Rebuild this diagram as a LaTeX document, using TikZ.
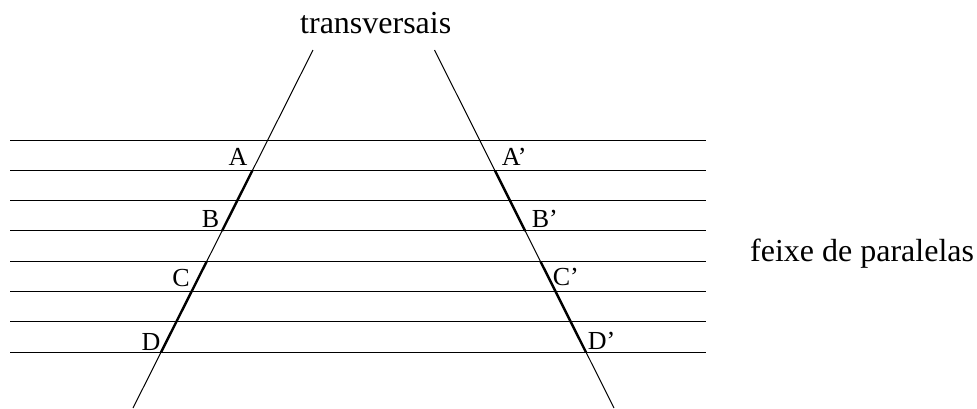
\documentclass[tikz,border=0pt]{standalone}
\usepackage{fontspec}
\setmainfont{Liberation Serif}
\begin{document}
\begin{tikzpicture}[x=1pt,y=-1pt,
  thinline/.style={line width=1pt,black},
  thickline/.style={line width=2.4pt,black},
  bigtext/.style={inner sep=0pt,font=\fontsize{32}{38}\selectfont},
  ptlabel/.style={inner sep=0pt,font=\fontsize{26}{31}\selectfont}]
\useasboundingbox (0,0) rectangle (977,408);
% parallel lines
\foreach \i in {0,...,7}{
  \coordinate (h\i w) at (10,{140+30.33*\i});
  \coordinate (h\i e) at (706,{140+30.33*\i});
  \draw[thinline] (h\i w) -- (h\i e);
}
% transversals
\coordinate (lt) at (313,50);
\coordinate (lb) at (133,408);
\coordinate (rt) at (434.5,50);
\coordinate (rb) at (614,408);
\draw[thinline] (lt) -- (lb);
\draw[thinline] (rt) -- (rb);
% intersection points
\coordinate (pA) at (252.3,170.66);
\coordinate (pB) at (222.0,231.0);
\coordinate (pC) at (206.6,261.65);
\coordinate (pD) at (161.0,352.3);
\coordinate (qA) at (495.0,170.66);
\coordinate (qB) at (525.2,231.0);
\coordinate (qC) at (540.6,261.65);
\coordinate (qD) at (586.0,352.3);
\draw[thickline] (pA) -- (pB);
\draw[thickline] (pC) -- (pD);
\draw[thickline] (qA) -- (qB);
\draw[thickline] (qC) -- (qD);
% labels
\node[ptlabel,anchor=base east] (A) at (247.7,165) {A};
\node[ptlabel,anchor=base east] (B) at (219.3,227.3) {B};
\node[ptlabel,anchor=base east] (C) at (190,286) {C};
\node[ptlabel,anchor=base east] (D) at (160.7,350.5) {D};
\node[ptlabel,anchor=base west] (A2) at (501.7,165) {A’};
\node[ptlabel,anchor=base west] (B2) at (531.7,227.3) {B’};
\node[ptlabel,anchor=base west] (C2) at (552.7,285.5) {C’};
\node[ptlabel,anchor=base west] (D2) at (587.7,349.5) {D’};
\node[bigtext,anchor=base west] (trans) at (300,33.3) {transversais};
\node[bigtext,anchor=base west] (feixe) at (750,261.7) {feixe de paralelas};
\end{tikzpicture}
\end{document}
